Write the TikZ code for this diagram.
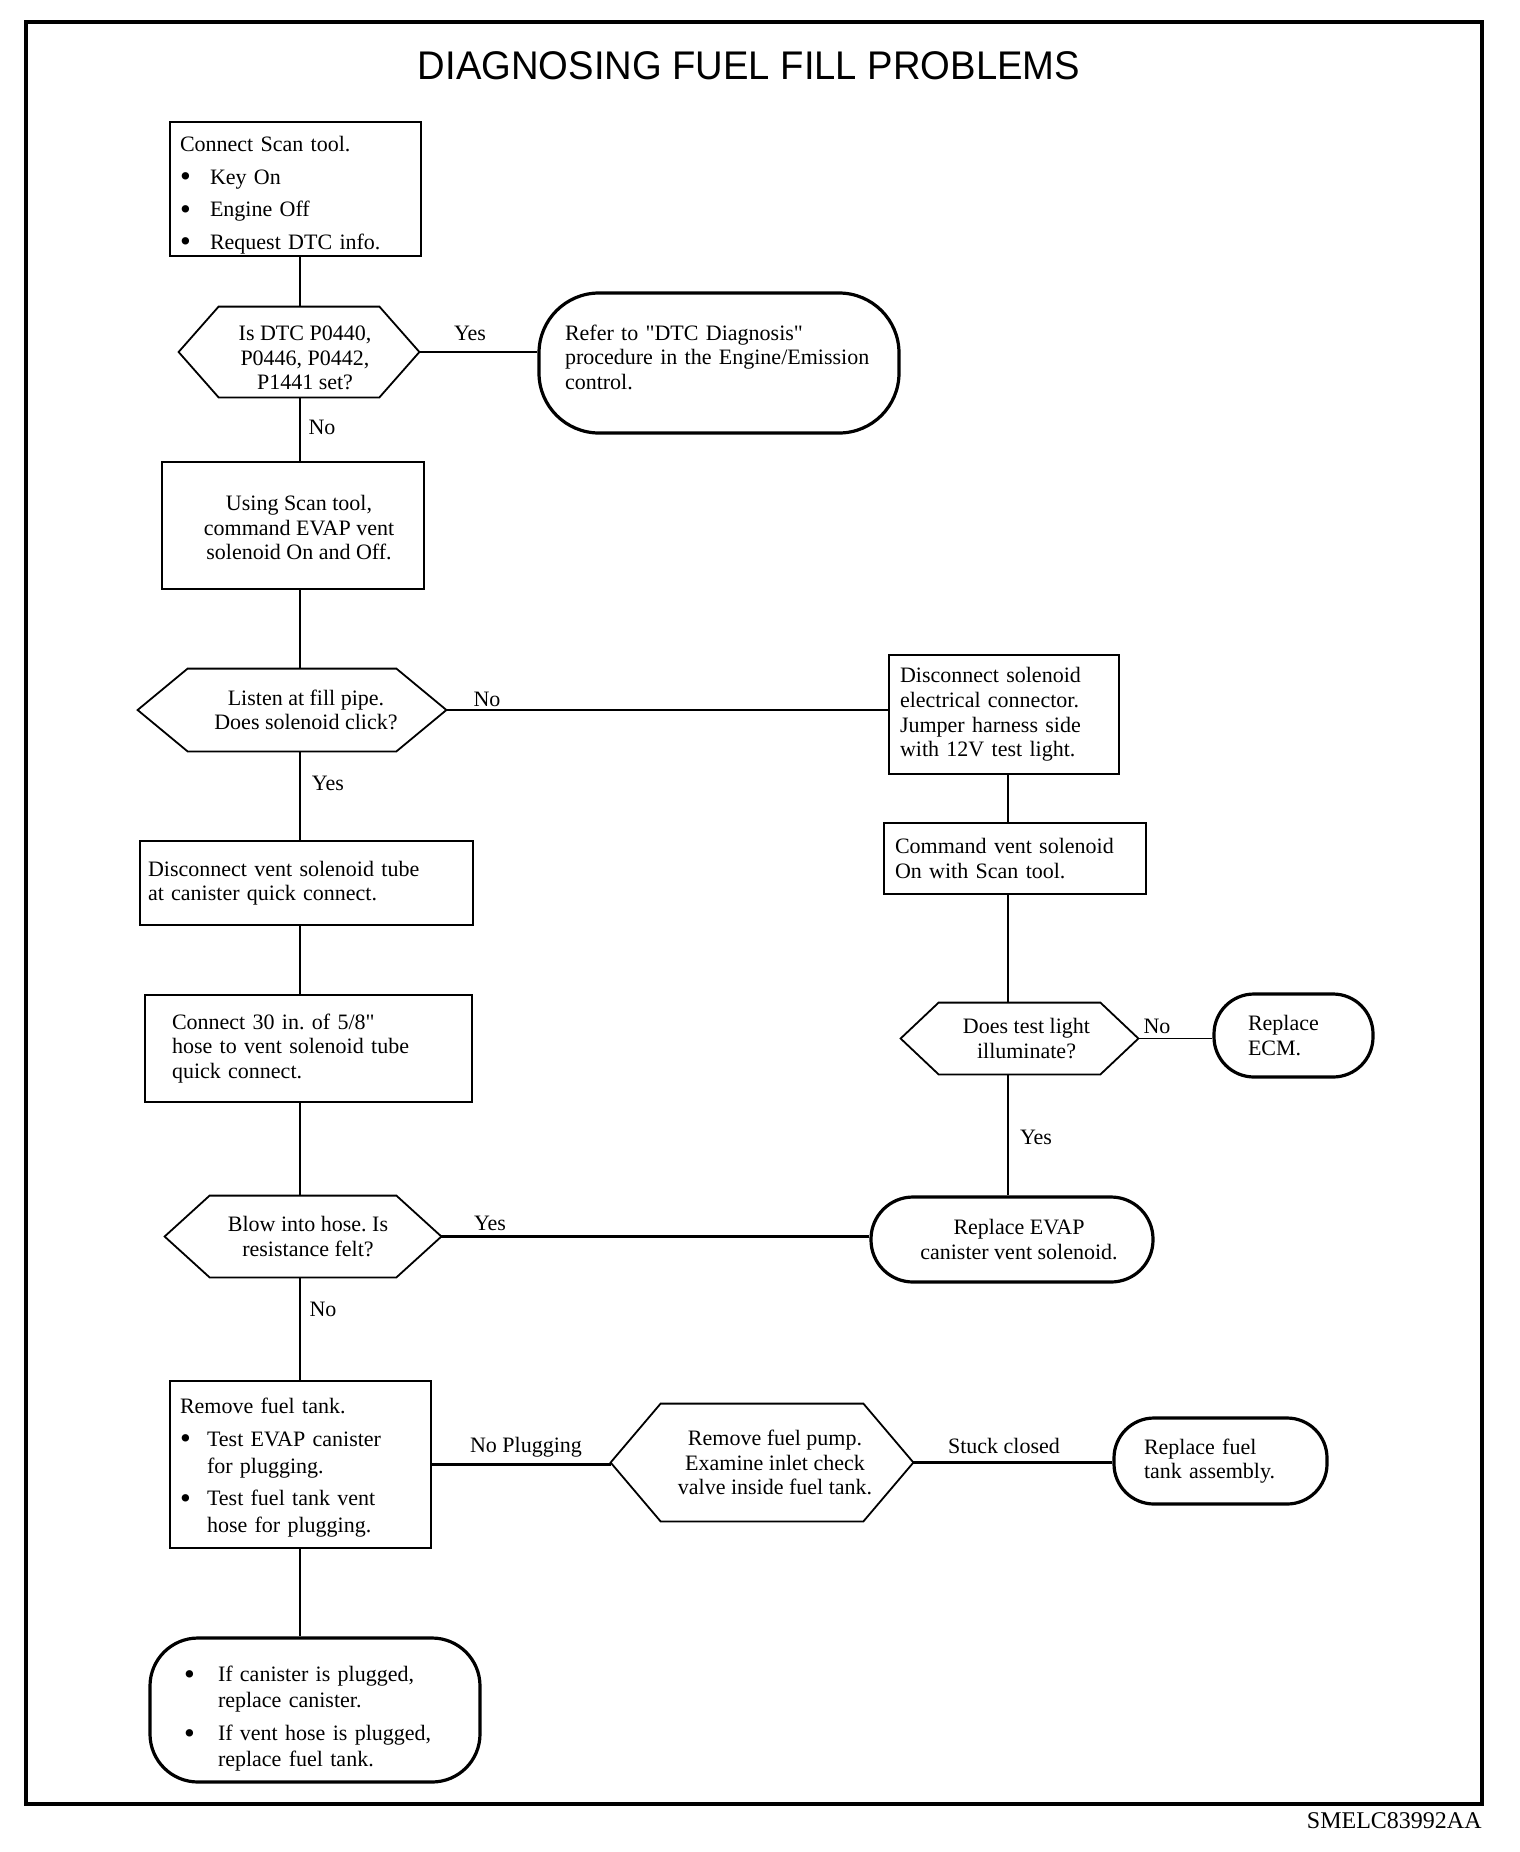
\documentclass[tikz,border=0pt]{standalone}
\usepackage{graphicx}
\usepackage{fontspec}
\setmainfont{Liberation Serif}[Ligatures=TeXOff]
\newfontfamily\titlefont[FakeStretch=0.955]{Liberation Sans}
\usepackage{tikz}
\usetikzlibrary{calc}
\frenchspacing

% bullet with a fixed hanging width
\newcommand{\bul}[1][15pt]{\makebox[#1][l]{\raisebox{-1.3pt}{\scalebox{1.4}{\textbullet}}}}
% flat topped hexagon round a decision node: name, inset
\newcommand{\hexframe}[2]{%
  \draw[hexline] (#1.west) -- ([xshift=#2]#1.north west) -- ([xshift=-#2]#1.north east)
    -- (#1.east) -- ([xshift=-#2]#1.south east) -- ([xshift=#2]#1.south west) -- cycle;}

\tikzset{
  body/.style={font=\fontsize{11}{12.3}\selectfont},
  stepbox/.style={draw, line width=0.7pt, body, inner ysep=0pt, align=left},
  endbox/.style={draw, line width=1.6pt, body, inner ysep=0pt, align=left},
  decbox/.style={inner sep=0pt, body, align=center},
  hexline/.style={line width=0.9pt, line join=miter},
  conn/.style={line width=0.6pt},
  heavyconn/.style={line width=1.2pt},
  lbl/.style={body, inner sep=1pt}
}

\begin{document}
\begin{tikzpicture}[x=0.5pt, y=-0.5pt]
  \fill[white] (0,0) rectangle (1520,1852);
  \useasboundingbox (0,0) rectangle (1520,1852);
  % frame and title
  \draw[line width=2.2pt] (26,22) rectangle (1482,1804);
  \node[font=\titlefont\fontsize{20}{24}\selectfont] (title) at (749,66) {DIAGNOSING FUEL FILL PROBLEMS};
  \node[anchor=base east, inner sep=0pt, font=\fontsize{12}{14}\selectfont] (figid) at (1482,1828) {SMELC83992AA};
  \coordinate (mc) at (300,0);
  \coordinate (rc) at (1008,0);

  % left column
  \node[stepbox, minimum height=67pt, text width=115.5pt, inner xsep=5pt] (b1) at (295.5,189)
    {\rule{0pt}{13.7pt}Connect Scan tool.\\[4pt] \bul Key On\\[4pt] \bul Engine Off\\[4pt] \bul Request DTC info.};
  \node[decbox, minimum width=120pt, minimum height=45pt] (d1) at (299,352)
    {\rule{0pt}{13.3pt}\hspace*{6pt}Is DTC P0440,\\ \hspace*{6pt}P0446, P0442,\\ \hspace*{6pt}P1441 set?};
  \hexframe{d1}{20pt}
  \node[endbox, rounded corners=30pt, minimum height=70pt, text width=154pt, inner xsep=13pt] (t1) at (719,363)
    {Refer to "DTC Diagnosis"\\ procedure in the Engine/Emission\\ control.\rule[-6pt]{0pt}{6pt}};
  \node[stepbox, align=center, minimum width=131pt, minimum height=63.5pt, inner xsep=0pt] (b2) at (293,525.5)
    {\rule{0pt}{10pt}\hspace*{6pt}Using Scan tool,\\ \hspace*{6pt}command EVAP vent\\ \hspace*{6pt}solenoid On and Off.};
  \node[decbox, minimum width=154pt, minimum height=41pt] (d2) at (292,710)
    {\hspace*{14pt}Listen at fill pipe.\\ \hspace*{14pt}Does solenoid click?};
  \hexframe{d2}{25pt}
  \node[stepbox, minimum height=42pt, text width=158.5pt, inner xsep=4pt] (b3) at (306.5,883)
    {Disconnect vent solenoid tube\\ at canister quick connect.};
  \node[stepbox, line width=1.1pt, minimum height=53.5pt, text width=136.5pt, inner xsep=13.5pt] (b4) at (308.5,1048.5)
    {Connect 30 in. of 5/8"\\ hose to vent solenoid tube\\ quick connect.};
  \node[decbox, minimum width=138pt, minimum height=40.5pt] (d4) at (303,1236.5)
    {\hspace*{5pt}Blow into hose. Is\\ \hspace*{5pt}resistance felt?};
  \hexframe{d4}{22.5pt}
  \node[stepbox, minimum height=83.5pt, text width=120.5pt, inner xsep=5pt] (b7) at (300.5,1464.5)
    {\rule{0pt}{11pt}Remove fuel tank.\\[4pt] \bul[13.5pt]Test EVAP canister\\[1.2pt] \hspace*{13.5pt}for plugging.\\[4pt]
     \bul[13.5pt]Test fuel tank vent\\[1.2pt] \hspace*{13.5pt}hose for plugging.};
  \node[decbox, minimum width=151pt, minimum height=58.5pt] (d5) at (762,1462.5)
    {\hspace*{13pt}Remove fuel pump.\\ \hspace*{13pt}Examine inlet check\\ \hspace*{13pt}valve inside fuel tank.};
  \hexframe{d5}{25pt}
  \node[endbox, rounded corners=20pt, minimum height=43pt, text width=76.5pt, inner xsep=15pt] (t4) at (1220.5,1461)
    {Replace fuel\\ tank assembly.};
  \node[endbox, rounded corners=24pt, minimum height=72pt, text width=131pt, inner xsep=17pt] (t5) at (315,1710)
    {\rule{0pt}{16.5pt}\bul[17pt]If canister is plugged,\\[0.8pt] \hspace*{17pt}replace canister.\\[4pt]
     \bul[17pt]If vent hose is plugged,\\[0.8pt] \hspace*{17pt}replace fuel tank.};

  % right column
  \node[stepbox, minimum height=59.5pt, text width=104pt, inner xsep=5.5pt] (b5) at (1004,714.5)
    {Disconnect solenoid\\ electrical connector.\\ Jumper harness side\\ with 12V test light.};
  \node[stepbox, minimum height=35.5pt, text width=120pt, inner xsep=5.5pt] (b6) at (1015,858.5)
    {Command vent solenoid\\ On with Scan tool.};
  \node[decbox, minimum width=118.5pt, minimum height=35.5pt] (d3) at (1019.5,1038.5)
    {\hspace*{7pt}Does test light\\ \hspace*{7pt}illuminate?};
  \hexframe{d3}{19pt}
  \node[endbox, rounded corners=20pt, minimum height=41.5pt, text width=45.5pt, inner xsep=17pt] (t2) at (1293.5,1035.5)
    {Replace\\ ECM.};
  \node[endbox, align=center, rounded corners=21pt, minimum width=141pt, minimum height=42.5pt] (t3) at (1012,1239.5)
    {\hspace*{7pt}Replace EVAP\\ \hspace*{7pt}canister vent solenoid.};

  % connectors
  \draw[conn] (b1.south -| mc) -- (d1.north -| mc);
  \draw[conn] (d1.east) -- (d1.east -| t1.west);
  \draw[conn] (d1.south -| mc) -- (b2.north -| mc);
  \draw[conn] (b2.south -| mc) -- (d2.north -| mc);
  \draw[conn] (d2.east) -- (d2.east -| b5.west);
  \draw[conn] (d2.south -| mc) -- (b3.north -| mc);
  \draw[conn] (b3.south -| mc) -- (b4.north -| mc);
  \draw[conn] (b4.south -| mc) -- (d4.north -| mc);
  \draw[heavyconn] (d4.east) -- (d4.east -| t3.west);
  \draw[conn] (d4.south -| mc) -- (b7.north -| mc);
  \draw[heavyconn] (b7.east) -- (b7.east -| d5.west);
  \draw[heavyconn] (d5.east) -- (d5.east -| t4.west);
  \draw[conn] (b7.south -| mc) -- (t5.north -| mc);
  \draw[conn] (b5.south -| rc) -- (b6.north -| rc);
  \draw[conn] (b6.south -| rc) -- (d3.north -| rc);
  \draw[conn] (d3.east) -- (d3.east -| t2.west);
  \draw[conn] (d3.south -| rc) -- (t3.north -| rc);

  % branch labels
  \node[lbl] (yes1) at (470,333) {Yes};
  \node[lbl] (no1) at (322,427) {No};
  \node[lbl] (no2) at (487,699) {No};
  \node[lbl] (yes2) at (328,783) {Yes};
  \node[lbl] (no3) at (1157,1026) {No};
  \node[lbl] (yes3) at (1036,1137) {Yes};
  \node[lbl] (yes4) at (490,1223) {Yes};
  \node[lbl] (no4) at (323,1309) {No};
  \node[lbl] (noplug) at (526,1447) {No Plugging};
  \node[lbl] (stuck) at (1004,1446) {Stuck closed};
\end{tikzpicture}
\end{document}
